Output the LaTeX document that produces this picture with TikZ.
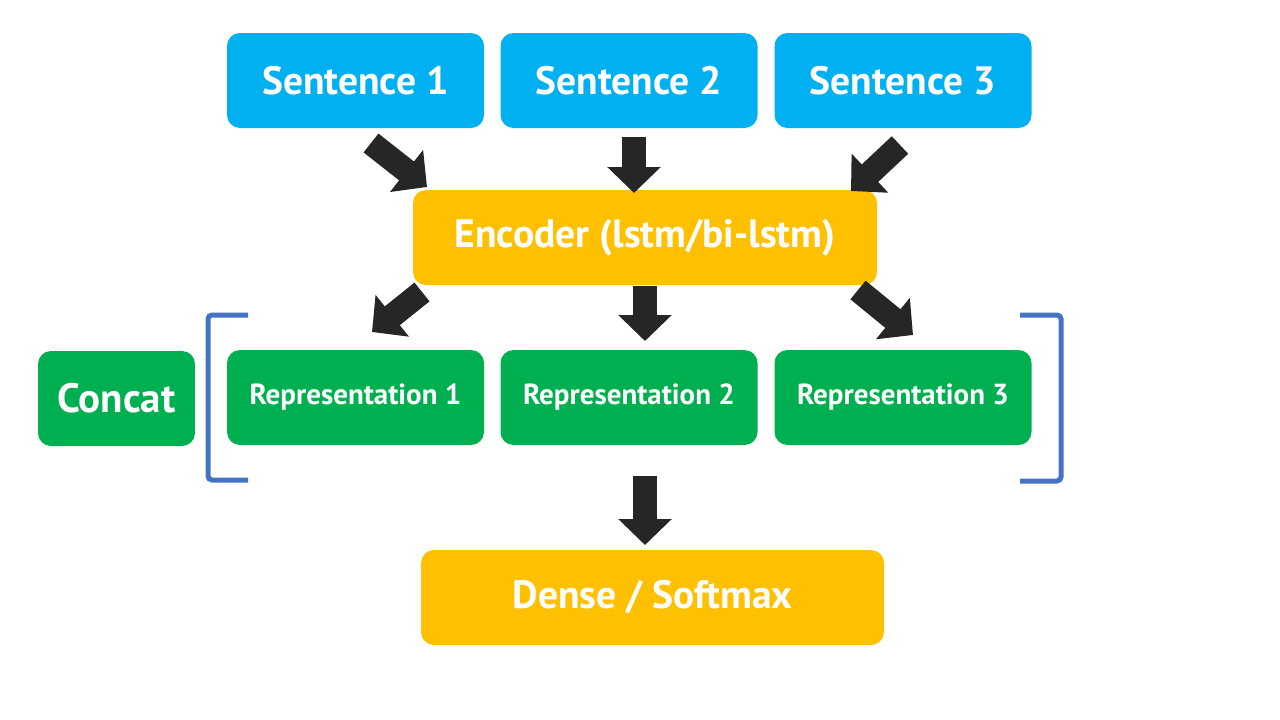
\documentclass[tikz,border=0pt]{standalone}
\usepackage{fontspec}
\setmainfont{PT Sans}
\usetikzlibrary{arrows.meta}
\definecolor{cblue}{HTML}{00B0F0}
\definecolor{corange}{HTML}{FFC000}
\definecolor{cgreen}{HTML}{00B050}
\definecolor{carrow}{HTML}{262626}
\definecolor{cbracket}{HTML}{4472C4}
\tikzset{
  box/.style={rounded corners=13pt, inner sep=0pt, text=white, font=\bfseries\fontsize{39.5}{44}\selectfont},
  sent/.style={box, fill=cblue, minimum width=257pt, minimum height=95pt},
  orng/.style={box, fill=corange, minimum height=95pt},
  repbox/.style={box, fill=cgreen, minimum width=257pt, minimum height=95pt, font=\bfseries\fontsize{29}{32}\selectfont},
  blk/.style={draw=carrow, line width=24pt, line cap=butt, -{Triangle[length=26pt,width=52pt]}},
  brk/.style={draw=cbracket, line width=5pt, rounded corners=4pt}
}
\begin{document}
\begin{tikzpicture}[x=1pt,y=-1pt]
\useasboundingbox[fill=white] (0,0) rectangle (1280,720);
\node[sent] (s1) at (355.5,80.5) {Sentence 1};
\node[sent] (s2) at (629,80.5) {Sentence 2};
\node[sent] (s3) at (903,80.5) {Sentence 3};
\node[orng, minimum width=464pt] (enc) at (645,237.5) {Encoder (lstm/bi-lstm)};
\node[repbox] (r1) at (355.5,397.5) {Representation 1};
\node[repbox] (r2) at (629,397.5) {Representation 2};
\node[repbox] (r3) at (903,397.5) {Representation 3};
\node[box, fill=cgreen, minimum width=157pt, minimum height=95pt, font=\bfseries\fontsize{41}{46}\selectfont] (cc) at (116.5,398.5) {Concat};
\node[orng, minimum width=463pt] (dn) at (652.5,597.5) {Dense / Softmax};
% arrow coordinates
\coordinate (a1s) at (371,143); \coordinate (a1e) at (427,187);
\coordinate (a2s) at (634,137); \coordinate (a2e) at (634,193);
\coordinate (a3s) at (900,145); \coordinate (a3e) at (851,191);
\coordinate (b1s) at (422,292); \coordinate (b1e) at (372,332);
\coordinate (b2s) at (645,286); \coordinate (b2e) at (645,341);
\coordinate (b3s) at (858,290); \coordinate (b3e) at (913,335);
\coordinate (c1s) at (645,476); \coordinate (c1e) at (645,545);
\draw[blk] (a1s) -- (a1e);
\draw[blk] (a2s) -- (a2e);
\draw[blk] (a3s) -- (a3e);
\draw[blk] (b1s) -- (b1e);
\draw[blk] (b2s) -- (b2e);
\draw[blk] (b3s) -- (b3e);
\draw[blk] (c1s) -- (c1e);
% brackets
\draw[brk] (248,315) -- (208,315) -- (208,480) -- (248,480);
\draw[brk] (1020,315) -- (1061,315) -- (1061,481) -- (1020,481);
\end{tikzpicture}
\end{document}
